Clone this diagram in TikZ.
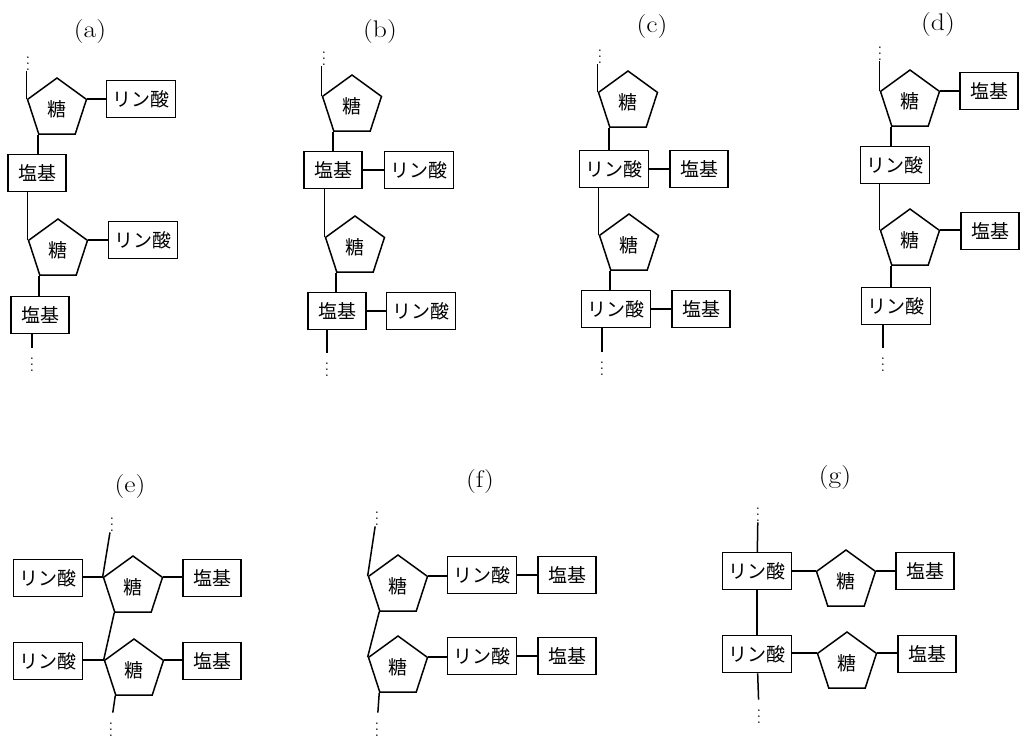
\documentclass[tikz,border=0pt]{standalone}
\usepackage{fontspec}
\usetikzlibrary{shapes.geometric}
\newfontfamily\jp{Noto Sans CJK JP}
\tikzset{
  sugar/.style={draw, regular polygon, regular polygon sides=5, minimum size=62pt,
    inner sep=0pt, font=\jp\fontsize{19}{21}\selectfont},
  unit/.style={draw, rectangle, minimum width=58pt, minimum height=37pt,
    inner xsep=6pt, inner ysep=0pt, font=\jp\fontsize{19}{21}\selectfont},
  tag/.style={font=\fontsize{24}{28}\selectfont, xscale=1.15},
  cont/.style={inner sep=0pt, scale=1.5}
}
\begin{document}
\begin{tikzpicture}[x=1pt,y=-1pt,line width=1.5pt]
      \useasboundingbox (0,0) rectangle (1026,740);
      % (a)
      \node[tag] (a) at (90,32) {(a)};
      \node[cont] (a-top) at (28,59) {$\vdots$};
      \node[sugar] (a-s1) at (57,109) {糖};
      \node[unit] (a-p1) at (141,99) {リン酸};
      \node[unit] (a-b1) at (37,173) {塩基};
      \node[sugar] (a-s2) at (58,250) {糖};
      \node[unit] (a-p2) at (143,240) {リン酸};
      \node[unit] (a-b2) at (40,315) {塩基};
      \node[cont] (a-bot) at (32,360) {$\vdots$};
      \draw (a-top.south -| a-s1.corner 2) -- (a-s1.corner 2);
      \draw (a-s1.corner 5) -- (a-s1.corner 5 -| a-p1.west);
      \draw (a-s1.corner 3) -- (a-s1.corner 3 |- a-b1.north);
      \draw (a-b1.south -| a-s2.corner 2) -- (a-s2.corner 2);
      \draw (a-s2.corner 5) -- (a-s2.corner 5 -| a-p2.west);
      \draw (a-s2.corner 3) -- (a-s2.corner 3 |- a-b2.north);
      \draw (a-b2.south -| a-bot) -- (a-bot.north);
      % (b)
      \node[tag] (b) at (380,32) {(b)};
      \node[cont] (b-top) at (324,54) {$\vdots$};
      \node[sugar] (b-s1) at (352,106) {糖};
      \node[unit] (b-b1) at (333,170) {塩基};
      \node[unit] (b-p1) at (419,170) {リン酸};
      \node[sugar] (b-s2) at (355,247) {糖};
      \node[unit] (b-b2) at (337,311) {塩基};
      \node[unit] (b-p2) at (421,311) {リン酸};
      \node[cont] (b-bot) at (327,365) {$\vdots$};
      \draw (b-top.south -| b-s1.corner 2) -- (b-s1.corner 2);
      \draw (b-s1.corner 3) -- (b-s1.corner 3 |- b-b1.north);
      \draw (b-b1) -- (b-p1);
      \draw (b-b1.south -| b-s2.corner 2) -- (b-s2.corner 2);
      \draw (b-s2.corner 3) -- (b-s2.corner 3 |- b-b2.north);
      \draw (b-b2) -- (b-p2);
      \draw (b-b2.south -| b-bot) -- (b-bot.north);
      % (c)
      \node[tag] (c) at (652,27) {(c)};
      \node[cont] (c-top) at (600,52) {$\vdots$};
      \node[sugar] (c-s1) at (628,102) {糖};
      \node[unit] (c-p1) at (614,169) {リン酸};
      \node[unit] (c-b1) at (699,169) {塩基};
      \node[sugar] (c-s2) at (629,245) {糖};
      \node[unit] (c-p2) at (616,309) {リン酸};
      \node[unit] (c-b2) at (701,309) {塩基};
      \node[cont] (c-bot) at (602,364) {$\vdots$};
      \draw (c-top.south -| c-s1.corner 2) -- (c-s1.corner 2);
      \draw (c-s1.corner 3) -- (c-s1.corner 3 |- c-p1.north);
      \draw (c-p1) -- (c-b1);
      \draw (c-p1.south -| c-s2.corner 2) -- (c-s2.corner 2);
      \draw (c-s2.corner 3) -- (c-s2.corner 3 |- c-p2.north);
      \draw (c-p2) -- (c-b2);
      \draw (c-p2.south -| c-bot) -- (c-bot.north);
      % (d)
      \node[tag] (d) at (938,25) {(d)};
      \node[cont] (d-top) at (880,49) {$\vdots$};
      \node[sugar] (d-s1) at (910,101) {糖};
      \node[unit] (d-b1) at (989,91) {塩基};
      \node[unit] (d-p1) at (895,165) {リン酸};
      \node[sugar] (d-s2) at (910,240) {糖};
      \node[unit] (d-b2) at (990,231) {塩基};
      \node[unit] (d-p2) at (896,306) {リン酸};
      \node[cont] (d-bot) at (883,360) {$\vdots$};
      \draw (d-top.south -| d-s1.corner 2) -- (d-s1.corner 2);
      \draw (d-s1.corner 5) -- (d-s1.corner 5 -| d-b1.west);
      \draw (d-s1.corner 3) -- (d-s1.corner 3 |- d-p1.north);
      \draw (d-p1.south -| d-s2.corner 2) -- (d-s2.corner 2);
      \draw (d-s2.corner 5) -- (d-s2.corner 5 -| d-b2.west);
      \draw (d-s2.corner 3) -- (d-s2.corner 3 |- d-p2.north);
      \draw (d-p2.south -| d-bot) -- (d-bot.north);
      % (e)
      \node[tag] (e) at (130,487) {(e)};
      \node[cont] (e-top) at (112,520) {$\vdots$};
      \node[sugar] (e-s1) at (133,587) {糖};
      \node[unit] (e-p1) at (48,578) {リン酸};
      \node[unit] (e-b1) at (212,578) {塩基};
      \node[sugar] (e-s2) at (134,670) {糖};
      \node[unit] (e-p2) at (48,661) {リン酸};
      \node[unit] (e-b2) at (212,661) {塩基};
      \node[cont] (e-bot) at (111,725) {$\vdots$};
      \draw (e-top) -- (e-s1.corner 2);
      \draw (e-p1.east |- e-s1.corner 2) -- (e-s1.corner 2);
      \draw (e-s1.corner 5) -- (e-s1.corner 5 -| e-b1.west);
      \draw (e-s1.corner 3) -- (e-s2.corner 2);
      \draw (e-p2.east |- e-s2.corner 2) -- (e-s2.corner 2);
      \draw (e-s2.corner 5) -- (e-s2.corner 5 -| e-b2.west);
      \draw (e-s2.corner 3) -- (e-bot);
      % (f)
      \node[tag] (f) at (480,482) {(f)};
      \node[cont] (f-top) at (377,514) {$\vdots$};
      \node[sugar] (f-s1) at (398,586) {糖};
      \node[unit] (f-p1) at (482,575) {リン酸};
      \node[unit] (f-b1) at (567,575) {塩基};
      \node[sugar] (f-s2) at (398,667) {糖};
      \node[unit] (f-p2) at (482,656) {リン酸};
      \node[unit] (f-b2) at (567,656) {塩基};
      \node[cont] (f-bot) at (377,725) {$\vdots$};
      \draw (f-top) -- (f-s1.corner 2);
      \draw (f-s1.corner 5) -- (f-s1.corner 5 -| f-p1.west);
      \draw (f-p1) -- (f-b1);
      \draw (f-s1.corner 3) -- (f-s2.corner 2);
      \draw (f-s2.corner 5) -- (f-s2.corner 5 -| f-p2.west);
      \draw (f-p2) -- (f-b2);
      \draw (f-s2.corner 3) -- (f-bot);
      % (g)
      \node[tag] (g) at (835,478) {(g)};
      \node[cont] (g-top) at (758,510) {$\vdots$};
      \node[unit] (g-p1) at (757,571) {リン酸};
      \node[sugar] (g-s1) at (846,581) {糖};
      \node[unit] (g-b1) at (925,571) {塩基};
      \node[unit] (g-p2) at (757,654) {リン酸};
      \node[sugar] (g-s2) at (847,663) {糖};
      \node[unit] (g-b2) at (927,654) {塩基};
      \node[cont] (g-bot) at (759,712) {$\vdots$};
      \draw (g-top) -- (g-p1);
      \draw (g-p1.east |- g-s1.corner 2) -- (g-s1.corner 2);
      \draw (g-s1.corner 5) -- (g-s1.corner 5 -| g-b1.west);
      \draw (g-p1) -- (g-p2);
      \draw (g-p2.east |- g-s2.corner 2) -- (g-s2.corner 2);
      \draw (g-s2.corner 5) -- (g-s2.corner 5 -| g-b2.west);
      \draw (g-p2) -- (g-bot);
\end{tikzpicture}
\end{document}
